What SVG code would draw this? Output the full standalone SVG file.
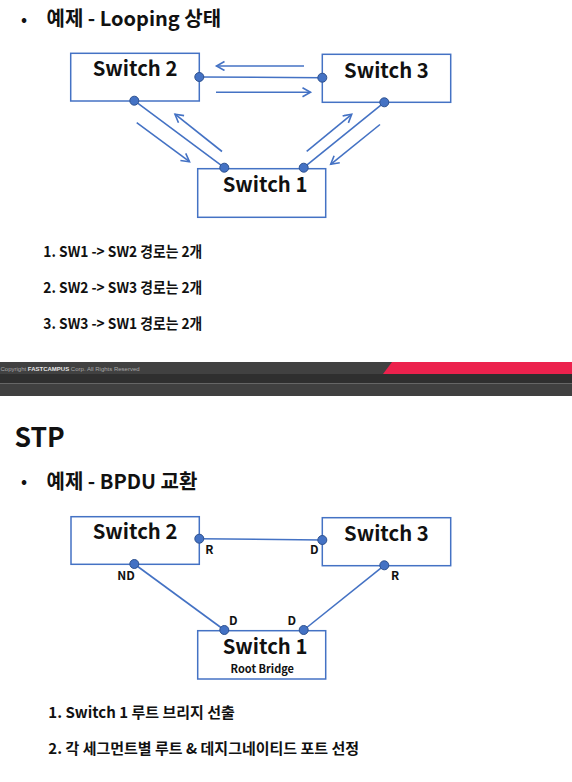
<svg xmlns="http://www.w3.org/2000/svg" width="572" height="782" viewBox="0 0 572 782">
<style>
.t{font-family:"Noto Sans CJK KR","Noto Sans",sans-serif;font-weight:bold;fill:#111}
.box{fill:#fff;stroke:#4472c4;stroke-width:1.5}
.ln{stroke:#4472c4;stroke-width:1.6;fill:none}
.ar{stroke:#4472c4;stroke-width:1.6;fill:none;marker-end:url(#ah)}
.port{fill:#4472c4;stroke:#2f528f;stroke-width:1}
.sw{font-size:20.3px}
.pl{font-size:12px}
.li{font-size:15px}
.hd{font-size:20px}
</style>
<defs>
<marker id="ah" markerUnits="userSpaceOnUse" markerWidth="12" markerHeight="12" refX="9" refY="5" orient="auto">
<path d="M1,0.5 L9,5 L1,9.5" fill="none" stroke="#4472c4" stroke-width="1.6"/>
</marker>
</defs>
<rect x="0" y="0" width="572" height="782" fill="#fff"/>

<!-- Section 1 -->
<text class="t" x="21" y="25" font-size="16">•</text>
<text class="t hd" x="46.5" y="26">예제 - Looping 상태</text>

<g id="connectors1">
<line class="ln" x1="199.3" y1="77" x2="322.3" y2="77.7"/>
<line class="ln" x1="134.3" y1="100.7" x2="224.3" y2="167.7"/>
<line class="ln" x1="384.3" y1="102.3" x2="303.7" y2="167.7"/>
<line class="ar" x1="304" y1="66" x2="216.5" y2="66"/>
<line class="ar" x1="216" y1="92.3" x2="310.5" y2="92.3"/>
<line class="ar" x1="136.7" y1="122.7" x2="189.5" y2="161.7"/>
<line class="ar" x1="222" y1="151.5" x2="175" y2="114.2"/>
<line class="ar" x1="306.7" y1="151.3" x2="351.7" y2="114.3"/>
<line class="ar" x1="380" y1="124.5" x2="330.7" y2="164.3"/>
</g>

<g id="s1-switch2">
<rect class="box" x="70.7" y="53.3" width="128.6" height="47.7"/>
<text class="t sw" x="92.7" y="76">Switch 2</text>
<circle class="port" cx="199.3" cy="77" r="4.5"/>
<circle class="port" cx="134.3" cy="100.7" r="4.5"/>
</g>
<g id="s1-switch3">
<rect class="box" x="322.3" y="54.3" width="128.4" height="48"/>
<text class="t sw" x="344" y="78.3">Switch 3</text>
<circle class="port" cx="322.3" cy="77.7" r="4.5"/>
<circle class="port" cx="384.3" cy="102.3" r="4.5"/>
</g>
<g id="s1-switch1">
<rect class="box" x="197.7" y="168.7" width="128" height="48.6"/>
<text class="t sw" x="222.7" y="192.3">Switch 1</text>
<circle class="port" cx="224.3" cy="167.7" r="4.5"/>
<circle class="port" cx="303.7" cy="167.7" r="4.5"/>
</g>

<text class="t li" x="43.3" y="257.3" textLength="159" lengthAdjust="spacingAndGlyphs">1. SW1 -&gt; SW2 경로는 2개</text>
<text class="t li" x="43.3" y="293.3" textLength="159" lengthAdjust="spacingAndGlyphs">2. SW2 -&gt; SW3 경로는 2개</text>
<text class="t li" x="43.3" y="329" textLength="159" lengthAdjust="spacingAndGlyphs">3. SW3 -&gt; SW1 경로는 2개</text>

<!-- Footer band -->
<g id="footer">
<rect x="0" y="362" width="572" height="12" fill="#414141"/>
<rect x="0" y="374" width="572" height="9.3" fill="#2f2f2f"/>
<rect x="0" y="383.3" width="572" height="12.7" fill="#404040"/>
<polygon points="392,362 572,362 572,374 383,374" fill="#ec224d"/>
<text x="0.5" y="370.5" font-family="Liberation Sans, sans-serif" font-size="6" fill="#a8a8a8">Copyright <tspan font-weight="bold" fill="#e6e6e6">FASTCAMPUS</tspan> Corp. All Rights Reserved</text>
</g>

<!-- Section 2 -->
<text class="t" x="14.5" y="446.7" font-size="26.5">STP</text>
<text class="t" x="21" y="487" font-size="16">•</text>
<text class="t hd" x="46.5" y="489">예제 - BPDU 교환</text>

<g id="connectors2">
<line class="ln" x1="199.3" y1="538.7" x2="322.3" y2="540"/>
<line class="ln" x1="134.3" y1="564" x2="224.3" y2="630"/>
<line class="ln" x1="384.3" y1="565.3" x2="303.7" y2="630"/>
</g>

<g id="s2-switch2">
<rect class="box" x="71" y="516.7" width="128.3" height="47.6"/>
<text class="t sw" x="92.7" y="539.3">Switch 2</text>
<circle class="port" cx="199.3" cy="538.7" r="4.5"/>
<circle class="port" cx="134.3" cy="564" r="4.5"/>
<text class="t pl" x="209.3" y="554" text-anchor="middle">R</text>
<text class="t pl" x="126" y="579.5" text-anchor="middle">ND</text>
</g>
<g id="s2-switch3">
<rect class="box" x="322.3" y="517.7" width="128.4" height="48"/>
<text class="t sw" x="344" y="540.7">Switch 3</text>
<circle class="port" cx="322.3" cy="540" r="4.5"/>
<circle class="port" cx="384.3" cy="565.3" r="4.5"/>
<text class="t pl" x="314.3" y="554" text-anchor="middle">D</text>
<text class="t pl" x="395" y="579.5" text-anchor="middle">R</text>
</g>
<g id="s2-switch1">
<rect class="box" x="197.7" y="630.7" width="128" height="48.3"/>
<text class="t sw" x="222.7" y="654.3">Switch 1</text>
<text class="t" x="262.3" y="673.3" font-size="11" text-anchor="middle">Root Bridge</text>
<circle class="port" cx="224.3" cy="630" r="4.5"/>
<circle class="port" cx="303.7" cy="630" r="4.5"/>
<text class="t pl" x="233.3" y="625" text-anchor="middle">D</text>
<text class="t pl" x="291.7" y="625" text-anchor="middle">D</text>
</g>

<text class="t li" x="48.3" y="718.3">1. Switch 1 루트 브리지 선출</text>
<text class="t li" x="48.3" y="754">2. 각 세그먼트별 루트 &amp; 데지그네이티드 포트 선정</text>
</svg>
